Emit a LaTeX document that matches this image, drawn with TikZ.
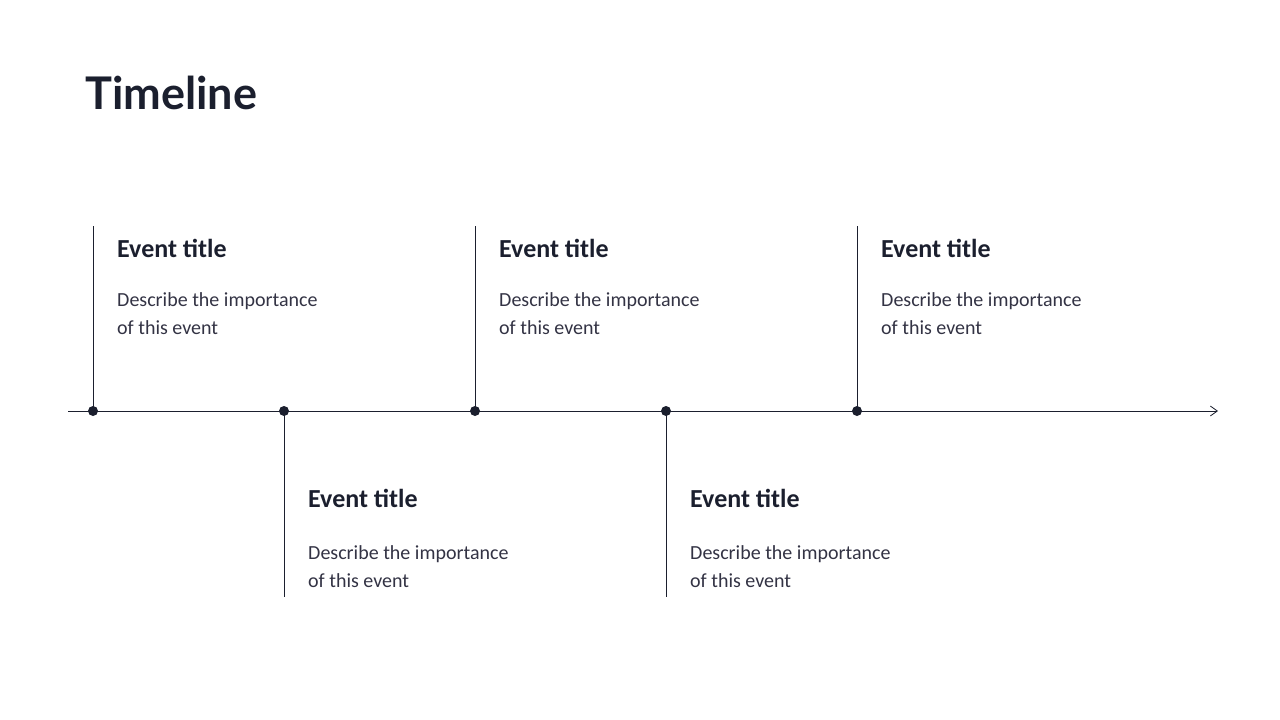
\documentclass[tikz,border=0pt]{standalone}
\usepackage{fontspec}
\setmainfont{Carlito}
\newfontfamily\titlefont{Lato}
\usetikzlibrary{arrows.meta}
\definecolor{ink}{HTML}{1B1F2E}
\definecolor{txt}{HTML}{333344}
\tikzset{
  evtitle/.style={anchor=base west,inner sep=0pt,font=\fontsize{26}{30}\selectfont\bfseries,text=ink},
  evdesc/.style={anchor=base west,inner sep=0pt,font=\fontsize{20}{28}\selectfont,text=txt,align=left},
  stem/.style={draw=ink,line width=0.8pt},
  dot/.style={circle,fill=ink,inner sep=0pt,minimum size=10pt}
}
\begin{document}
\begin{tikzpicture}[x=1pt,y=-1pt]
\useasboundingbox (0,0) rectangle (1280,720);
\node[anchor=base west,inner sep=0pt,font=\titlefont\fontsize{45}{50}\selectfont\bfseries,text=ink] (title) at (85,109) {Timeline};
\coordinate (s) at (68,411);
\coordinate (e) at (1218,411);
\draw[stem,-{Straight Barb[length=7pt,width=10pt]}] (s) -- (e);
\foreach \i/\x/\up in {1/93/1,2/284/0,3/475/1,4/666/0,5/857/1}{
  \node[dot] (d\i) at (\x,411) {};
  \ifnum\up=1
    \coordinate (t\i) at (\x,226);
    \draw[stem] (t\i) -- (d\i.center);
    \node[evtitle] (h\i) at (\x+24,257) {Event title};
    \node[evdesc] (p\i) at (\x+24,334) {Describe the importance\\of this event};
  \else
    \coordinate (t\i) at (\x,597);
    \draw[stem] (d\i.center) -- (t\i);
    \node[evtitle] (h\i) at (\x+24,507) {Event title};
    \node[evdesc] (p\i) at (\x+24,587) {Describe the importance\\of this event};
  \fi
}
\end{tikzpicture}
\end{document}
